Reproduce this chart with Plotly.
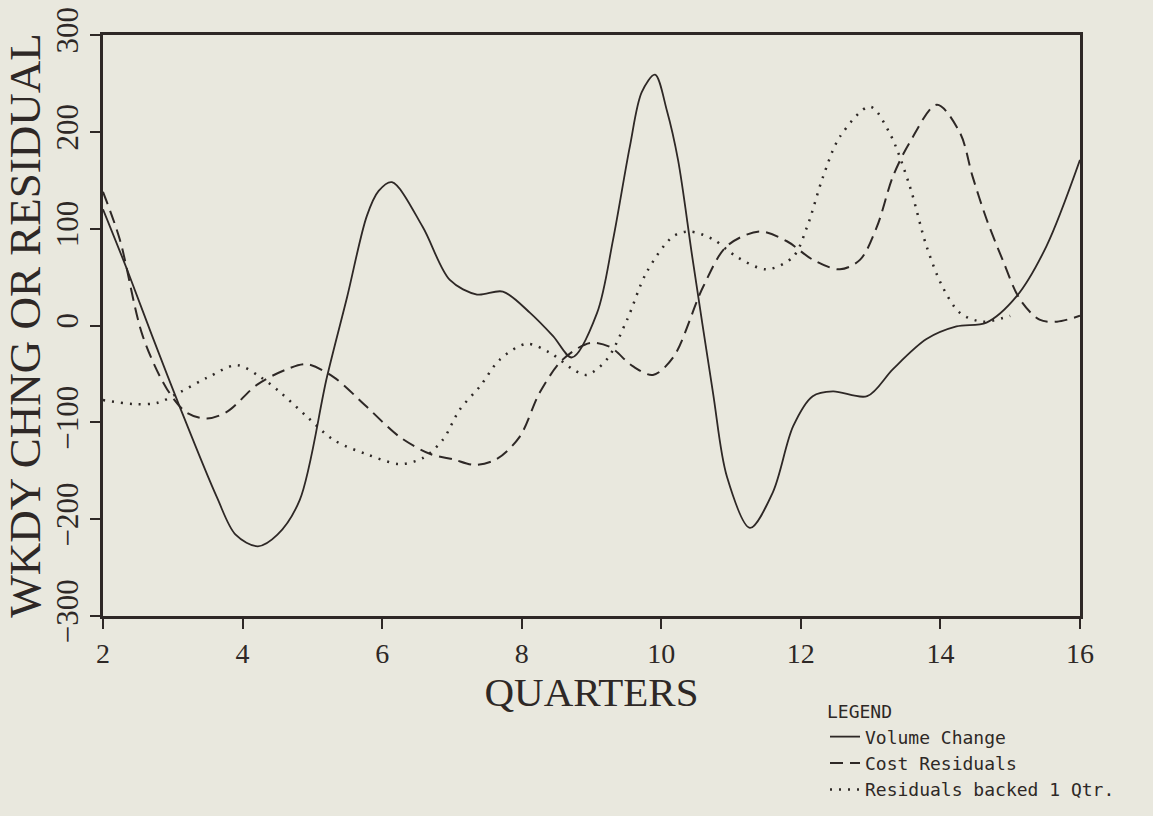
import plotly.graph_objects as go

# ---------------- data ----------------
quarters_volume = [2.0, 2.36, 2.7, 3.1, 3.63, 3.9, 4.22, 4.5, 4.82, 5.21, 5.5, 5.78, 5.95, 6.14,
                   6.58, 6.97, 7.36, 7.73, 8.12, 8.45, 8.72, 9.08, 9.31, 9.55, 9.72, 9.91, 10.08,
                   10.24, 10.45, 10.74, 10.94, 11.27, 11.6, 11.89, 12.17, 12.46, 12.95, 13.32,
                   13.8, 14.23, 14.66, 15.09, 15.52, 16.0]
volume_change = [120, 55, -10, -84, -177, -216, -228, -216, -180, -53, 30, 113, 139, 148,
                 102, 47, 32, 35, 13, -11, -33, 13, 89, 185, 241, 259, 222,
                 171, 68, -69, -156, -209, -172, -104, -73, -68, -73, -45,
                 -14, -1, 3, 30, 82, 171]

quarters_cost = [2.0, 2.24, 2.57, 2.92, 3.2, 3.49, 3.78, 4.21, 4.64, 4.92, 5.3, 5.78, 6.25,
                 6.7, 7.01, 7.33, 7.64, 7.97, 8.26, 8.59, 8.98, 9.26, 9.59, 9.88, 10.17,
                 10.6, 10.94, 11.41, 11.8, 12.17, 12.56, 12.85, 13.09, 13.32, 13.56, 13.95,
                 14.28, 14.46, 14.66, 14.89, 15.14, 15.42, 15.67, 16.0]
cost_residuals = [138, 89, -11, -66, -90, -96, -89, -61, -45, -40, -53, -84, -115,
                  -133, -138, -144, -138, -115, -69, -35, -18, -22, -42, -51, -33,
                  40, 82, 97, 87, 68, 58, 68, 102, 154, 189, 228,
                  199, 154, 110, 68, 27, 6, 4, 10]

quarters_backed = [2.0, 2.43, 2.77, 3.1, 3.49, 3.92, 4.25, 4.54, 4.92, 5.3, 5.78, 6.25, 6.58,
                   6.87, 7.11, 7.4, 7.69, 8.07, 8.4, 8.73, 8.93, 9.22, 9.51, 9.79, 10.17,
                   10.41, 10.74, 11.08, 11.51, 11.89, 12.09, 12.32, 12.56, 12.99, 13.27,
                   13.56, 13.8, 14.03, 14.28, 14.6, 15.0]
residuals_backed = [-77, -81, -80, -69, -54, -41, -53, -69, -94, -118, -133, -143, -137,
                    -118, -87, -63, -35, -19, -28, -45, -51, -35, 6, 55, 92,
                    97, 89, 71, 58, 71, 102, 154, 195, 226, 199,
                    144, 82, 40, 13, 4, 10]

x_ticks = [2, 4, 6, 8, 10, 12, 14, 16]
y_ticks = [-300, -200, -100, 0, 100, 200, 300]

# ---------------- styling ----------------
INK = "#2e2826"
BG = "#e9e8de"
SERIF = "Liberation Serif, Times New Roman, serif"
MONO = "DejaVu Sans Mono, Liberation Mono, monospace"

fig = go.Figure()
fig.add_trace(go.Scatter(
    x=quarters_volume, y=volume_change, mode="lines", name="Volume Change",
    line=dict(color=INK, width=1.8, shape="spline", smoothing=0.9)))
fig.add_trace(go.Scatter(
    x=quarters_cost, y=cost_residuals, mode="lines", name="Cost Residuals",
    line=dict(color=INK, width=2, dash="13px,7px", shape="spline", smoothing=0.9)))
fig.add_trace(go.Scatter(
    x=quarters_backed, y=residuals_backed, mode="lines", name="Residuals backed 1 Qtr.",
    line=dict(color=INK, width=2.5, dash="2px,7px", shape="spline", smoothing=0.9)))

fig.update_layout(
    width=1153, height=816,
    margin=dict(l=103, r=73, t=35, b=200, autoexpand=False),
    paper_bgcolor=BG, plot_bgcolor=BG,
    showlegend=True,
    legend=dict(
        x=0.739, y=-0.136, xanchor="left", yanchor="top",
        bgcolor="rgba(0,0,0,0)", borderwidth=0,
        font=dict(family=MONO, size=18, color=INK),
        title=dict(text="LEGEND", font=dict(family=MONO, size=18, color=INK)),
        tracegroupgap=0,
    ),
)

fig.update_xaxes(
    range=[2, 16], tickvals=x_ticks, ticktext=[str(v) for v in x_ticks],
    showgrid=False, zeroline=False,
    showline=True, linecolor=INK, linewidth=3, mirror=True,
    ticks="outside", ticklen=10, tickwidth=1.5, tickcolor=INK,
    tickfont=dict(family=SERIF, size=28, color=INK),
    ticklabelstandoff=0,
    title=dict(text="QUARTERS", font=dict(family=SERIF, size=41, color=INK), standoff=0),
)
fig.update_yaxes(
    range=[-300, 300], tickvals=y_ticks,
    showgrid=False, zeroline=False,
    showline=True, linecolor=INK, linewidth=3, mirror=True,
    ticks="outside", ticklen=10, tickwidth=1.5, tickcolor=INK,
    tickangle=-90,
    tickfont=dict(family=SERIF, size=31, color=INK),
    ticklabelstandoff=0,
    title=dict(text="WKDY CHNG OR RESIDUAL", font=dict(family=SERIF, size=45, color=INK), standoff=0),
)

fig.write_html("out.html", config={"displayModeBar": False},
               post_script="document.body.style.margin='0';")
